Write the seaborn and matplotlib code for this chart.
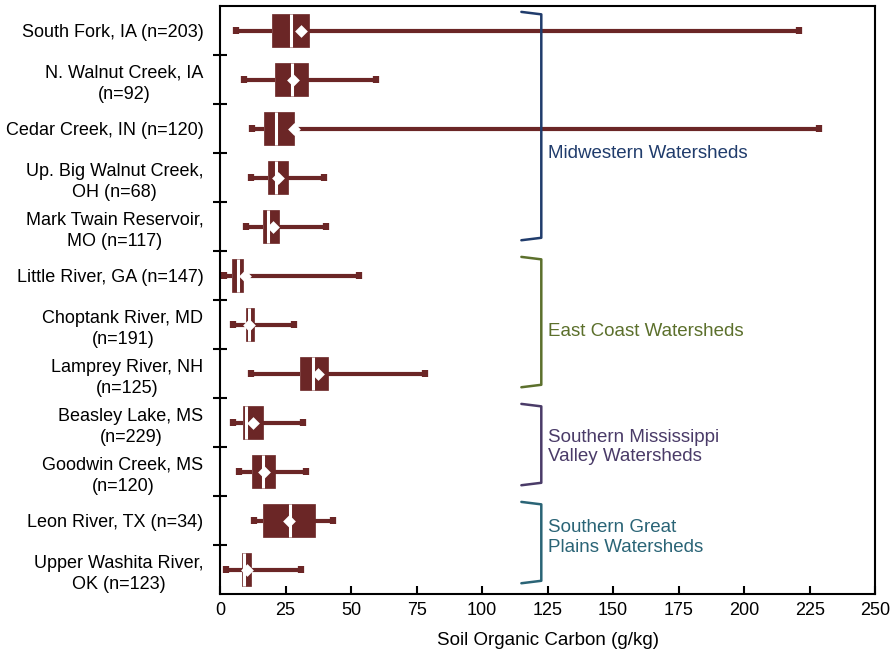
"""
Soil organic carbon by watershed: horizontal box plots with means,
grouped by region with brackets on the right.
"""

import numpy as np
import pandas as pd
import seaborn as sns
import matplotlib.pyplot as plt


# ---------------------------
# Data
# ---------------------------

sites = [
    "South Fork, IA (n=203)",
    "N. Walnut Creek, IA\n(n=92)",
    "Cedar Creek, IN (n=120)",
    "Up. Big Walnut Creek,\nOH (n=68)",
    "Mark Twain Reservoir,\nMO (n=117)",
    "Little River, GA (n=147)",
    "Choptank River, MD\n(n=191)",
    "Lamprey River, NH\n(n=125)",
    "Beasley Lake, MS\n(n=229)",
    "Goodwin Creek, MS\n(n=120)",
    "Leon River, TX (n=34)",
    "Upper Washita River,\nOK (n=123)",
]

whisker_low = [6.0, 9.2, 12.1, 11.7, 9.9, 1.6, 5.1, 11.8, 5.1, 7.4, 13.0, 2.2]
q1 = [19.7, 21.0, 16.9, 18.2, 16.5, 4.7, 9.8, 30.5, 8.9, 12.1, 16.5, 8.3]
median = [27.1, 27.4, 21.4, 21.4, 18.4, 6.8, 11.1, 35.6, 9.8, 16.5, 26.7, 9.2]
q3 = [34.0, 33.5, 28.1, 25.8, 22.5, 8.9, 12.8, 41.1, 16.5, 21.0, 36.3, 11.8]
whisker_high = [221.0, 59.4, 228.6, 39.7, 40.3, 53.2, 28.4, 78.2, 31.8, 32.8, 43.2, 30.9]
means = [30.8, 27.7, 28.1, 22.3, 20.1, 9.5, 11.2, 37.5, 12.5, 16.9, 26.3, 10.4]

group_names = [
    "Midwestern Watersheds",
    "East Coast Watersheds",
    "Southern Mississippi\nValley Watersheds",
    "Southern Great\nPlains Watersheds",
]
group_first = [0, 5, 8, 10]
group_last = [4, 7, 9, 11]

x_ticks = [0, 25, 50, 75, 100, 125, 150, 175, 200, 225, 250]


# ---------------------------
# Plot style
# ---------------------------

sns.set_theme(style="ticks")
plt.rcParams["font.family"] = ["Liberation Sans", "DejaVu Sans"]
plt.rcParams["text.color"] = "black"
plt.rcParams["axes.labelcolor"] = "black"
plt.rcParams["xtick.color"] = "black"
plt.rcParams["ytick.color"] = "black"

box_color = "#6b2626"
group_colors = ["#203c6c", "#5c702c", "#4a3b68", "#2a6476"]
label_shift = [0.5, 0.15, 0.0, -0.15]


# ---------------------------
# Build long table: five summary values per site give the
# quartiles exactly and whiskers at min/max with whis=(0, 100)
# ---------------------------

rows = []
for i, site in enumerate(sites):
    for v in (whisker_low[i], q1[i], median[i], q3[i], whisker_high[i]):
        rows.append({"Site": site, "SOC": v})
box_data = pd.DataFrame(rows)
mean_data = pd.DataFrame({"Site": sites, "SOC": means})


# ---------------------------
# Create figure
# ---------------------------

fig, ax = plt.subplots(figsize=(8.93, 6.54), dpi=100)

sns.boxplot(
    data=box_data,
    x="SOC",
    y="Site",
    order=sites,
    orient="h",
    whis=(0, 100),
    width=0.69,
    color=box_color,
    saturation=1,
    linecolor=box_color,
    linewidth=3,
    capwidths=0.14,
    boxprops={"facecolor": box_color, "edgecolor": box_color, "linewidth": 0.5},
    medianprops={"color": "white", "linewidth": 2.2},
    capprops={"color": box_color, "linewidth": 4.5, "solid_capstyle": "butt"},
    whiskerprops={"color": box_color, "linewidth": 3, "solid_capstyle": "butt"},
    showfliers=False,
    ax=ax,
)

sns.stripplot(
    data=mean_data,
    x="SOC",
    y="Site",
    order=sites,
    orient="h",
    jitter=False,
    marker="D",
    color="white",
    size=6.5,
    linewidth=0,
    zorder=5,
    ax=ax,
)


# ---------------------------
# Region brackets
# ---------------------------

bracket_x = 122.6
hook_x = 115.0

for name, first, last, color, shift in zip(
    group_names, group_first, group_last, group_colors, label_shift
):
    top = first - 0.38
    bottom = last + 0.28
    ax.plot(
        [hook_x, bracket_x, bracket_x, hook_x],
        [top, top + 0.05, bottom - 0.05, bottom],
        color=color,
        linewidth=1.8,
        solid_joinstyle="round",
        zorder=6,
    )
    ax.text(
        bracket_x + 2.6,
        (first + last) / 2 + shift,
        name,
        color=color,
        fontsize=13.5,
        ha="left",
        va="center",
        linespacing=1.2,
    )


# ---------------------------
# Axes
# ---------------------------

ax.set_xlim(0, 250)
ax.set_ylim(len(sites) - 0.5, -0.5)
ax.set_xticks(x_ticks)
ax.set_xlabel("Soil Organic Carbon (g/kg)", fontsize=13.5, labelpad=9)
ax.set_ylabel("")

ax.set_yticks(np.arange(len(sites)))
ax.set_yticklabels(sites)
for label in ax.get_yticklabels():
    label.set_multialignment("center")
    label.set_linespacing(1.35)

ax.set_yticks(np.arange(len(sites) - 1) + 0.5, minor=True)

ax.tick_params(axis="y", which="major", length=0, pad=12, labelsize=13)
ax.tick_params(
    axis="y", which="minor", direction="inout", length=10, width=1.5,
    color="black",
)
ax.tick_params(
    axis="x", which="major", direction="in", length=6, width=1.5,
    color="black", labelsize=13, pad=6,
)

for spine in ax.spines.values():
    spine.set_visible(True)
    spine.set_color("black")
    spine.set_linewidth(1.5)

ax.grid(False)


# ---------------------------
# Layout and save
# ---------------------------

plt.subplots_adjust(left=0.2464, right=0.98, top=0.9908, bottom=0.0917)

plt.savefig("out.png", dpi=100)
